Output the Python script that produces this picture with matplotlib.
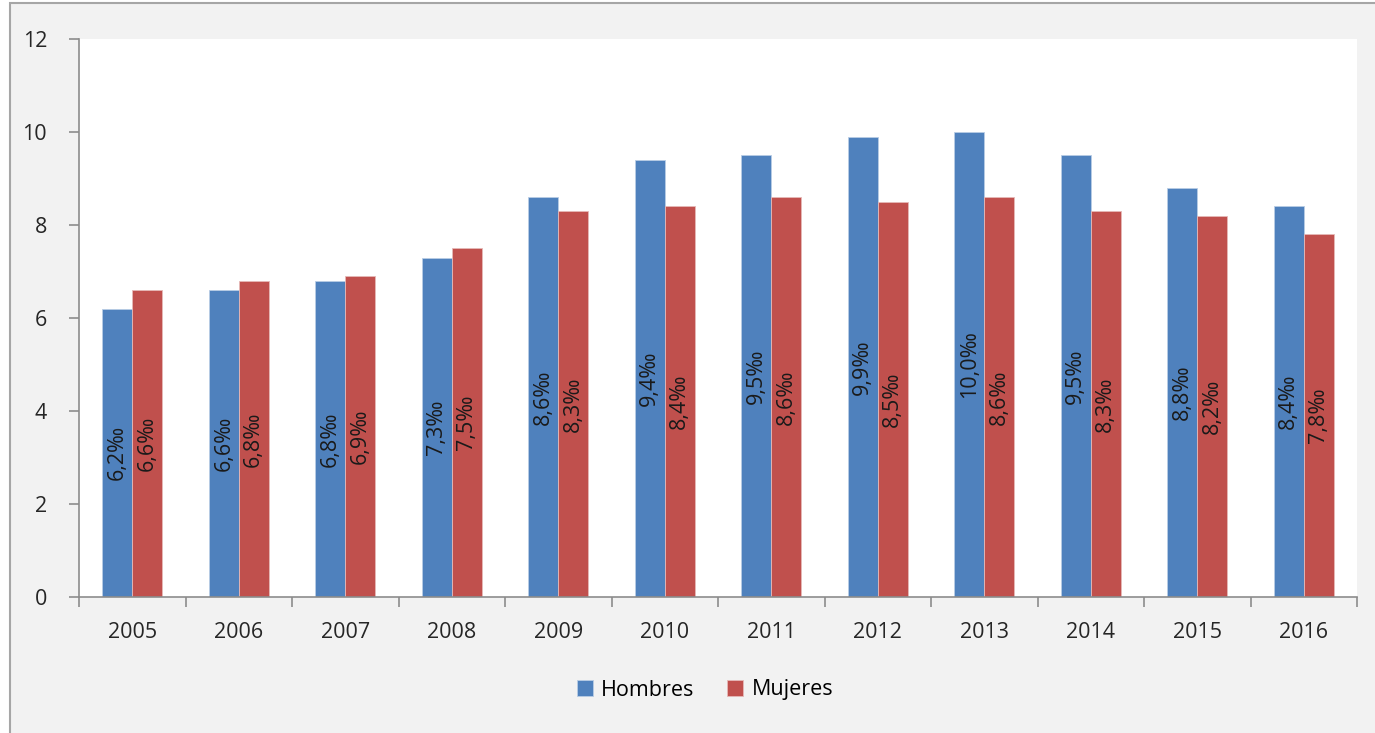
import matplotlib.pyplot as plt
import numpy as np
from matplotlib.patches import Rectangle

plt.rcParams['font.family'] = ['Open Sans', 'DejaVu Sans']

years = ['2005', '2006', '2007', '2008', '2009', '2010', '2011', '2012', '2013', '2014', '2015', '2016']
hombres = [6.2, 6.6, 6.8, 7.3, 8.6, 9.4, 9.5, 9.9, 10.0, 9.5, 8.8, 8.4]
mujeres = [6.6, 6.8, 6.9, 7.5, 8.3, 8.4, 8.6, 8.5, 8.6, 8.3, 8.2, 7.8]
hombres_lbl = ['6,2‰', '6,6‰', '6,8‰', '7,3‰', '8,6‰', '9,4‰', '9,5‰', '9,9‰', '10,0‰', '9,5‰', '8,8‰', '8,4‰']
mujeres_lbl = ['6,6‰', '6,8‰', '6,9‰', '7,5‰', '8,3‰', '8,4‰', '8,6‰', '8,5‰', '8,6‰', '8,3‰', '8,2‰', '7,8‰']

blue = '#4F81BD'
red = '#C0504D'
gray = '#8C8C8C'

fig = plt.figure(figsize=(13.75, 7.33), dpi=100)
fig.patch.set_facecolor('white')
# outer frame of the chart area
fig.patches.append(Rectangle((10 / 1375, -0.05), 1.1, (733 - 3) / 733 + 0.05,
                             transform=fig.transFigure, facecolor='#F2F2F2',
                             edgecolor='#A6A6A6', linewidth=1.5, zorder=-10))

ax = fig.add_axes([79 / 1375, (733 - 597) / 733, (1357 - 79) / 1375, (597 - 39) / 733])
ax.set_facecolor('white')
ax.set_zorder(5)

x = np.arange(len(years))
w = 0.28
b1 = ax.bar(x - w / 2, hombres, w, color=blue, edgecolor='#B9CDE5', linewidth=0.6, label='Hombres')
b2 = ax.bar(x + w / 2, mujeres, w, color=red, edgecolor='#E6B9B8', linewidth=0.6, label='Mujeres')

for bars, labels in ((b1, hombres_lbl), (b2, mujeres_lbl)):
    for r, t in zip(bars, labels):
        ax.text(r.get_x() + r.get_width() / 2, r.get_height() / 2, t, rotation=90,
                ha='center', va='center', fontsize=15.5, color='#1a1a1a')

ax.set_xlim(-0.5, len(years) - 0.5)
ax.set_ylim(0, 12)
ax.set_yticks(range(0, 13, 2))
ax.set_xticks(x)
ax.set_xticklabels(years)
ax.set_xticks(np.arange(-0.5, len(years), 1), minor=True)
ax.tick_params(axis='x', which='major', length=0, pad=18, labelsize=15.5, labelcolor='#262626')
ax.tick_params(axis='x', which='minor', length=7, color=gray, width=1.2)
ax.tick_params(axis='y', length=7, color=gray, width=1.2, labelsize=15.5, labelcolor='#262626', pad=16)
for s in ('top', 'right'):
    ax.spines[s].set_visible(False)
for s in ('left', 'bottom'):
    ax.spines[s].set_color(gray)
    ax.spines[s].set_linewidth(1.2)

leg = fig.legend(handles=[b1, b2], loc='center', bbox_to_anchor=(705 / 1375, 1 - 690 / 733),
                 ncol=2, frameon=False, fontsize=15.5, handlelength=0.75, handleheight=0.75,
                 handletextpad=0.4, columnspacing=1.5)

plt.savefig('out.png', dpi=100, facecolor=fig.get_facecolor())
